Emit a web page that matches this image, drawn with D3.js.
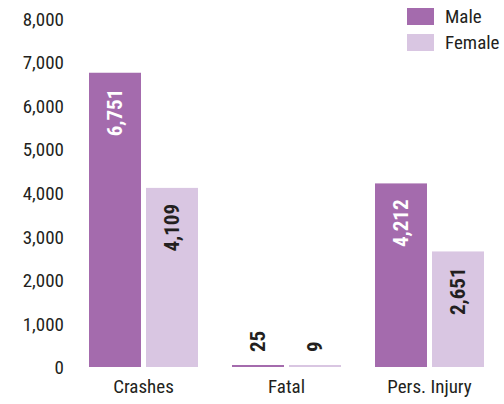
<!DOCTYPE html>
<html>
<head>
<meta charset="utf-8">
<script src="https://cdn.jsdelivr.net/npm/d3@7"></script>
<style>
  html, body { margin: 0; padding: 0; background: #fff; }
  svg text { font-family: "Roboto Condensed", "Liberation Sans Narrow", "Arial Narrow", Roboto, sans-serif; }
</style>
</head>
<body>
<svg id="chart" width="504" height="404"></svg>
<script>
const categories = ["Crashes", "Fatal", "Pers. Injury"];
const series = ["Male", "Female"];
const maleValues = [6751, 25, 4212];
const femaleValues = [4109, 9, 2651];
const yTicks = [0, 1000, 2000, 3000, 4000, 5000, 6000, 7000, 8000];
const colors = ["#a46bad", "#d9c6e2"];

const svg = d3.select("#chart");
const baseline = 367, plotTop = 18.3;
const y = d3.scaleLinear().domain([0, 8000]).range([baseline, plotTop]);
const x0 = d3.scaleBand().domain(categories).range([72, 501]).padding(0);
const x1 = d3.scaleBand().domain(series).range([17, 126]).paddingInner(0.0877).paddingOuter(0);

const data = categories.map((c, i) => ({ cat: c, vals: [maleValues[i], femaleValues[i]] }));

// y axis
const yAxis = d3.axisLeft(y).tickValues(yTicks).tickFormat(d3.format(",")).tickSize(0).tickPadding(0);
const gy = svg.append("g").attr("transform", "translate(64,0)").call(yAxis);
gy.attr("font-family", null);
gy.select(".domain").remove();
gy.selectAll("text").attr("font-size", 19).attr("fill", "#231f20").attr("dy", "0.36em");

// x axis
const xAxis = d3.axisBottom(x0).tickSize(0).tickPadding(0);
const gx = svg.append("g").attr("transform", `translate(0,${baseline})`).call(xAxis);
gx.attr("font-family", null);
gx.select(".domain").remove();
gx.selectAll("text").attr("font-size", 19).attr("fill", "#231f20").attr("y", 26).attr("dy", 0);

// bars
const groups = svg.append("g").selectAll("g").data(data).join("g")
  .attr("transform", d => `translate(${x0(d.cat)},0)`);

groups.selectAll("rect").data(d => d.vals.map((v, j) => ({ s: series[j], v, j })))
  .join("rect")
  .attr("x", d => x1(d.s))
  .attr("width", x1.bandwidth())
  .attr("y", d => Math.min(y(d.v), baseline - 2))
  .attr("height", d => Math.max(baseline - y(d.v), 2))
  .attr("fill", d => colors[d.j]);

// value labels
const isInside = d => baseline - y(d.v) > 80;
groups.selectAll("text.val").data(d => d.vals.map((v, j) => ({ s: series[j], v, j })))
  .join("text")
  .attr("class", "val")
  .attr("font-size", 21)
  .attr("font-weight", "bold")
  .attr("text-anchor", d => isInside(d) ? "end" : "start")
  .attr("fill", d => (isInside(d) && d.j === 0) ? "#fff" : "#231f20")
  .attr("transform", d => {
    const cx = x1(d.s) + x1.bandwidth() / 2;
    const yy = isInside(d) ? y(d.v) + 16 : baseline - 15;
    return `translate(${cx + 7},${yy}) rotate(-90)`;
  })
  .text(d => d3.format(",")(d.v));

// legend
const legend = svg.append("g");
series.forEach((s, i) => {
  legend.append("rect").attr("x", 407).attr("y", 8 + i * 26).attr("width", 27).attr("height", 17).attr("fill", colors[i]);
  legend.append("text").attr("x", 445).attr("y", 16.5 + i * 26).attr("dy", "0.36em")
    .attr("font-size", 19).attr("fill", "#231f20").text(s);
});
</script>
</body>
</html>
